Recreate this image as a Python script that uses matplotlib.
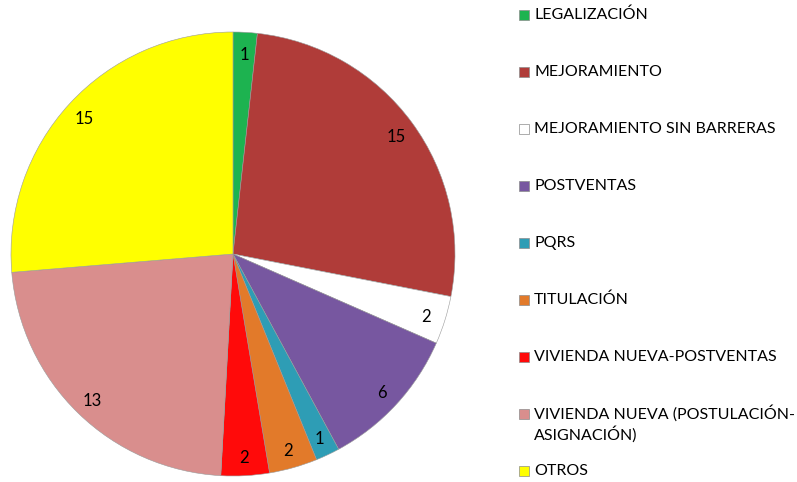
import matplotlib.pyplot as plt
import numpy as np
from matplotlib.patches import Rectangle

plt.rcParams['font.family'] = ['Lato', 'DejaVu Sans']

# data
categories = ['LEGALIZACIÓN', 'MEJORAMIENTO', 'MEJORAMIENTO SIN BARRERAS', 'POSTVENTAS',
              'PQRS', 'TITULACIÓN', 'VIVIENDA NUEVA-POSTVENTAS',
              'VIVIENDA NUEVA (POSTULACIÓN-\nASIGNACIÓN)', 'OTROS']
values = [1, 15, 2, 6, 1, 2, 2, 13, 15]
colors = ['#1db350', '#b03c39', '#ffffff', '#7757a0', '#2e9db5', '#e27a2a',
          '#ff0a0a', '#d98e8d', '#ffff00']

fig = plt.figure(figsize=(7.97, 4.82), dpi=100)
ax = fig.add_axes([11 / 797, 6 / 482, 444 / 797, 444 / 482])

wedges = ax.pie(values, colors=colors, startangle=90, counterclock=False,
                wedgeprops=dict(edgecolor='#9a9a9a', linewidth=0.4))[0]

# value labels inside the slices
for w, v in zip(wedges, values):
    ang = np.deg2rad((w.theta1 + w.theta2) / 2)
    ax.text(0.91 * np.cos(ang), 0.91 * np.sin(ang) - 0.01, str(v), ha='center', va='center',
            fontsize=12, color='black')
ax.set_xlim(-1, 1)
ax.set_ylim(-1, 1)
ax.set_aspect('auto')

# legend drawn by hand (Excel-like spacing)
x_box = 519 / 797
x_txt = 534 / 797
pitch = 57 / 482
top = 1 - 15 / 482
box_w = 10 / 797
box_h = 10 / 482
for i, (lab, c) in enumerate(zip(categories, colors)):
    y = top - i * pitch
    fig.add_artist(Rectangle((x_box, y - box_h / 2), box_w, box_h, transform=fig.transFigure,
                             facecolor=c, edgecolor='#8c8c8c', linewidth=0.5))
    if '\n' in lab:
        fig.text(x_txt, y + 9 / 482, lab, ha='left', va='top', fontsize=11.5, linespacing=1.3)
    else:
        fig.text(x_txt, y, lab, ha='left', va='center', fontsize=11.5)

fig.savefig('out.png', dpi=100)
